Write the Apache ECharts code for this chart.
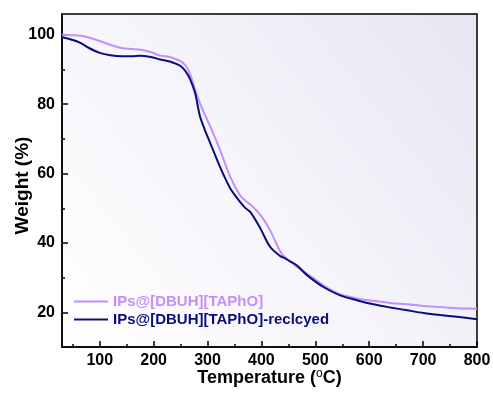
<!DOCTYPE html>
<html>
<head>
<meta charset="utf-8">
<script src="https://cdn.jsdelivr.net/npm/echarts@6/dist/echarts.min.js"></script>
<style>
  html, body { margin: 0; padding: 0; background: #fff; }
  #tga-chart { width: 493px; height: 397px; }
</style>
</head>
<body>
<div id="tga-chart"></div>
<script>
// temperature (°C) and weight (%)
const temps = [30, 50, 65, 80, 100, 120, 140, 160, 175, 195, 212, 230, 250, 260, 268, 277, 286, 295, 305, 323,
  342, 360, 370, 380, 398, 416, 435, 445, 453, 466, 484, 515, 546, 577, 608, 639, 670, 701, 732, 763, 800];
const weightFresh = [100, 99.9, 99.7, 99.2, 98.2, 97.1, 96.2, 95.9, 95.7, 95.0, 94.0, 93.6, 92.4, 91.0, 88.5, 84.2, 80.3, 77.0, 73.6, 66.9,
  59.1, 53.8, 52.2, 51.0, 48.1, 43.7, 37.5, 35.6, 34.8, 33.1, 31.2, 27.8, 25.2, 24.0, 23.3, 22.7, 22.3, 21.8, 21.5, 21.2, 21.0];
const weightRecycled = [99.3, 98.5, 97.6, 96.2, 94.8, 94.1, 93.8, 93.8, 94.0, 93.6, 92.9, 92.3, 91.0, 89.3, 87.1, 83.2, 76.5, 72.6, 68.8, 62.0,
  55.8, 51.9, 50.1, 48.8, 44.2, 38.9, 36.2, 35.5, 34.7, 33.5, 30.8, 27.3, 24.9, 23.5, 22.3, 21.4, 20.6, 19.8, 19.2, 18.7, 18.0];
const seriesNames = ["IPs@[DBUH][TAPhO]", "IPs@[DBUH][TAPhO]-reclcyed"];

const xMajor = [100, 200, 300, 400, 500, 600, 700, 800];
const xMinor = [50, 150, 250, 350, 450, 550, 650, 750];
const yMajor = [20, 40, 60, 80, 100];
const yMinor = [30, 50, 70, 90];

const colFresh = "#c48ff8";
const colRecycled = "#0c0c7c";
const font = "Liberation Sans, Arial, sans-serif";

let chart = echarts.init(document.getElementById("tga-chart"));

let labelStyle = { fontSize: 16, fontWeight: "bold", color: "#000", fontFamily: font };

let option = {
    animation: false,
    grid: {
        left: 62, top: 14, right: 16, bottom: 50,
        outerBoundsMode: "none",
        containLabel: false,
        show: true,
        borderColor: "#000",
        borderWidth: 1.5,
        backgroundColor: new echarts.graphic.LinearGradient(0, 1, 1, 0, [
            { offset: 0, color: "#ffffff" },
            { offset: 0.5, color: "#f4f4fa" },
            { offset: 1, color: "#e6e6f2" }
        ])
    },
    legend: {
        orient: "vertical",
        left: 68,
        top: 289,
        itemWidth: 34,
        itemHeight: 14,
        itemGap: 3,
        selectedMode: false,
        itemStyle: { opacity: 0 },
        textStyle: { fontSize: 15, fontWeight: "bold", fontFamily: font },
        data: [
            { name: seriesNames[0], textStyle: { color: colFresh } },
            { name: seriesNames[1], textStyle: { color: colRecycled } }
        ]
    },
    xAxis: [
        {
            type: "value",
            min: 30,
            max: 800,
            name: "Temperature ({sup|o}C)",
            nameLocation: "middle",
            nameGap: 21,
            nameMoveOverlap: false,
            nameTextStyle: {
                fontSize: 18, fontWeight: "bold", color: "#000", fontFamily: font,
                rich: {
                    sup: { fontSize: 12, fontWeight: "normal", color: "#000", fontFamily: font, padding: [0, 0, 9, 0] }
                }
            },
            splitLine: { show: false },
            axisLine: { lineStyle: { color: "#000", width: 1.5 } },
            axisTick: { inside: true, length: 6, customValues: xMajor, lineStyle: { color: "#000", width: 1.5 } },
            axisLabel: Object.assign({ margin: 6, customValues: xMajor }, labelStyle)
        },
        {
            type: "value",
            min: 30,
            max: 800,
            position: "bottom",
            splitLine: { show: false },
            axisLine: { show: false },
            axisTick: { inside: true, length: 3, customValues: xMinor, lineStyle: { color: "#000", width: 1.5 } },
            axisLabel: { show: false }
        }
    ],
    yAxis: [
        {
            type: "value",
            min: 10,
            max: 106,
            name: "Weight (%)",
            nameLocation: "middle",
            nameGap: 30,
            nameMoveOverlap: false,
            nameTextStyle: { fontSize: 19, fontWeight: "bold", color: "#000", fontFamily: font, padding: [0, 10, 0, 0] },
            splitLine: { show: false },
            axisLine: { lineStyle: { color: "#000", width: 1.5 } },
            axisTick: { inside: true, length: 6, customValues: yMajor, lineStyle: { color: "#000", width: 1.5 } },
            axisLabel: Object.assign({ margin: 7, customValues: yMajor }, labelStyle)
        },
        {
            type: "value",
            min: 10,
            max: 106,
            position: "left",
            splitLine: { show: false },
            axisLine: { show: false },
            axisTick: { inside: true, length: 3, customValues: yMinor, lineStyle: { color: "#000", width: 1.5 } },
            axisLabel: { show: false }
        }
    ],
    series: [
        {
            name: seriesNames[0],
            type: "line",
            data: temps.map((t, i) => [t, weightFresh[i]]),
            smooth: 0.3,
            symbol: "none",
            lineStyle: { color: colFresh, width: 2 },
            itemStyle: { color: colFresh }
        },
        {
            name: seriesNames[1],
            type: "line",
            data: temps.map((t, i) => [t, weightRecycled[i]]),
            smooth: 0.3,
            symbol: "none",
            lineStyle: { color: colRecycled, width: 2 },
            itemStyle: { color: colRecycled }
        }
    ]
};
chart.setOption(option);
</script>
</body>
</html>
